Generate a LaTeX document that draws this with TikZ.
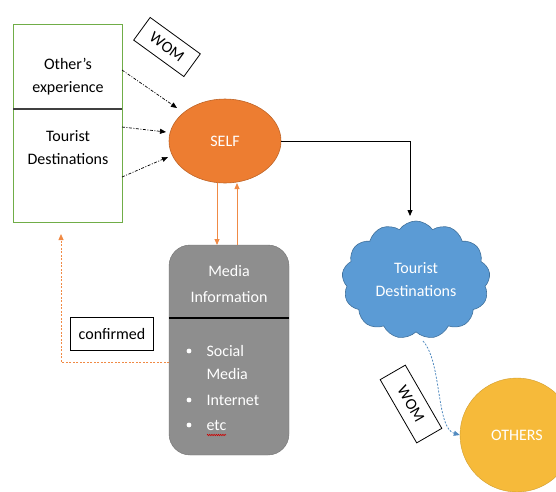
\documentclass[tikz,border=0pt]{standalone}
\usepackage{fontspec}
\setmainfont{Carlito}
\usetikzlibrary{shapes.geometric,shapes.symbols,arrows.meta,decorations.pathmorphing}
\definecolor{selforange}{HTML}{ED7D31}
\definecolor{linkorange}{HTML}{F08A45}
\definecolor{cloudblue}{HTML}{5B9BD5}
\definecolor{cloudedge}{HTML}{41719C}
\definecolor{othersgold}{HTML}{F6BA3A}
\definecolor{mediagray}{HTML}{8E8E8E}
\definecolor{boxgreen}{HTML}{70AD47}
\tikzset{
  x=1pt, y=-1pt,
  every node/.style={font=\fontsize{16}{23}\selectfont},
  lbl/.style={draw=black, line width=0.8pt, fill=white, inner sep=2pt},
  dashdot/.style={line width=0.7pt, dash pattern=on 3pt off 1.5pt on 1pt off 1.5pt, -{Triangle[length=6pt,width=5pt]}},
  solidarrow/.style={line width=0.8pt, -{Triangle[length=6pt,width=5pt]}},
}
\begin{document}
\begin{tikzpicture}
\useasboundingbox (0,0) rectangle (556,491);

% source box with two sections
\draw[boxgreen, line width=0.8pt, fill=white] (13,24) rectangle (122,222);
\draw[black!75, line width=1.2pt] (13,109) -- (122,109);
\coordinate (oe) at (122,70);
\coordinate (td1) at (122,127);
\coordinate (td2) at (122,177);
\node[align=center] at (68,77) {Other’s\\experience};
\node[align=center] at (68,148) {Tourist\\Destinations};

% self
\node[ellipse, fill=selforange, draw=selforange!80!black, line width=0.6pt,
      minimum width=112pt, minimum height=84pt, text=white] (self) at (225,141) {SELF};

\node[lbl, rotate=-36, minimum width=62pt, minimum height=28pt] (wom1) at (167,47) {WOM};

\coordinate (in1) at (177,108);
\coordinate (in2) at (166,132);
\coordinate (in3) at (168,157);
\draw[dashdot] (oe) -- (in1);
\draw[dashdot] (td1) -- (in2);
\draw[dashdot] (td2) -- (in3);

% media information
\node[draw=black!55, fill=mediagray, rounded corners=21pt, minimum width=120pt, minimum height=210pt] (media) at (229,350) {};
\draw[black, line width=1.2pt] (media.west |- 0,318) -- (media.east |- 0,318);
\node[text=white, align=center, font=\fontsize{16}{26}\selectfont] at (229,284) {Media\\Information};
\foreach \yy in {351,400,425} \fill[white] (189,\yy) circle (2.4pt);
\node[text=white, anchor=west] at (203,351) {Social};
\node[text=white, anchor=west] at (203,374) {Media};
\node[text=white, anchor=west] at (203,400) {Internet};
\node[text=white, anchor=west] (etc) at (203,425) {etc};
\draw[red!80!black, line width=0.6pt, decorate, decoration={zigzag, amplitude=0.7pt, segment length=2.2pt}] (207,435) -- (226,435);

\coordinate (mtopl) at (217,245);
\coordinate (mtopr) at (237,245);
\coordinate (sbotl) at (217,183);
\coordinate (sbotr) at (237,183);
\draw[linkorange, solidarrow] (sbotl) -- (mtopl);
\draw[linkorange, solidarrow] (mtopr) -- (sbotr);

% confirmed loop
\coordinate (mleft) at (169,362);
\coordinate (loopcorner) at (61,362);
\coordinate (looptop) at (61,234);
\draw[linkorange, line width=0.8pt, dash pattern=on 2pt off 1.5pt, -{Triangle[length=6pt,width=5pt]}]
  (mleft) -- (loopcorner) -- (looptop);
\node[lbl, minimum width=83pt, minimum height=33pt] (conf) at (112,334) {confirmed};

% self to destinations
\node[cloud, cloud puffs=13, cloud puff arc=110, aspect=1.4, fill=cloudblue, draw=cloudedge, line width=0.6pt,
      minimum width=148pt, minimum height=118pt, text=white, align=center] (dest) at (416,280) {Tourist\\Destinations};
\coordinate (corner) at (410,141);
\coordinate (desttop) at (410,216);
\draw[solidarrow] (self.east) -- (corner) -- (desttop);

% others
\node[circle, fill=othersgold, draw=othersgold!85!black, minimum size=114pt, text=white] (others) at (517,435) {OTHERS};
\coordinate (destbot) at (423,341);
\draw[cloudblue!90!black, line width=0.8pt, dash pattern=on 2pt off 1.5pt, -{Triangle[length=6pt,width=5pt]}]
  (destbot) .. controls (442,362) and (436,428) .. (others.west);
\node[lbl, rotate=-60, minimum width=73pt, minimum height=29pt] (wom2) at (411,404) {WOM};
\end{tikzpicture}
\end{document}
